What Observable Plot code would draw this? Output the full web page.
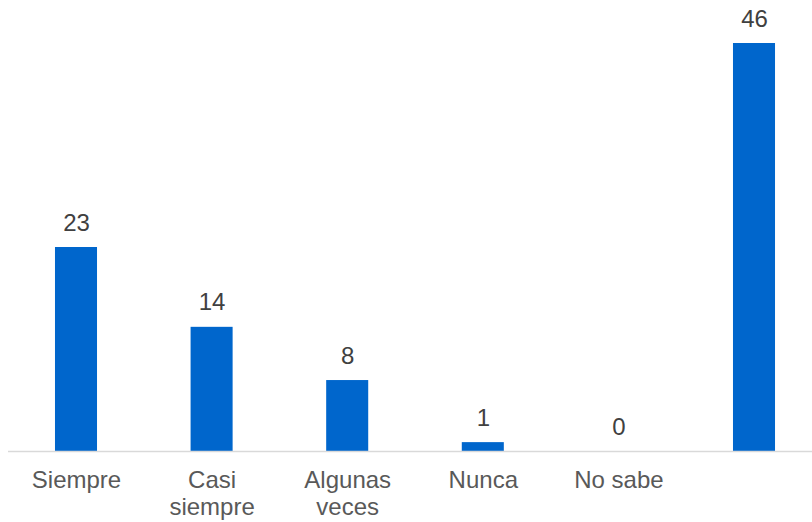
<!DOCTYPE html>
<html>
<head>
<meta charset="utf-8">
<script src="https://cdn.jsdelivr.net/npm/d3@7"></script>
<script src="https://cdn.jsdelivr.net/npm/@observablehq/plot@0.6"></script>
<style>
  html, body { margin: 0; padding: 0; background: #ffffff; }
  #chart svg { display: block; }
</style>
</head>
<body>
<div id="chart"></div>
<script>
const categories = ["Siempre", "Casi\nsiempre", "Algunas\nveces", "Nunca", "No sabe", ""];
const values = [23, 14, 8, 1, 0, 46];

const data = categories.map((c, i) => ({cat: c, value: values[i]}));

const chart = Plot.plot({
  width: 812,
  height: 522,
  marginLeft: 8,
  marginRight: 0,
  marginTop: 43,
  marginBottom: 71,
  style: {fontFamily: "'Liberation Sans', Arial, sans-serif", background: "#ffffff"},
  x: {domain: categories, range: [8.2, 821.8], paddingInner: 0.69, paddingOuter: 0.345, round: false, axis: null},
  y: {domain: [0, 46], range: [451, 43], axis: null},
  marks: [
    Plot.barY(data, {x: "cat", y: "value", fill: "#0066cc"}),
    Plot.ruleY([0], {stroke: "#d9d9d9", strokeWidth: 1.5}),
    Plot.text(data, {x: "cat", y: "value", text: d => String(d.value), lineAnchor: "bottom", dy: -17, fontSize: 24, fill: "#404040"}),
    Plot.text(data, {x: "cat", y: () => 0, text: "cat", lineAnchor: "top", dy: 17, fontSize: 24, lineHeight: 1.125, fill: "#595959"})
  ]
});
document.getElementById("chart").appendChild(chart);
</script>
</body>
</html>
